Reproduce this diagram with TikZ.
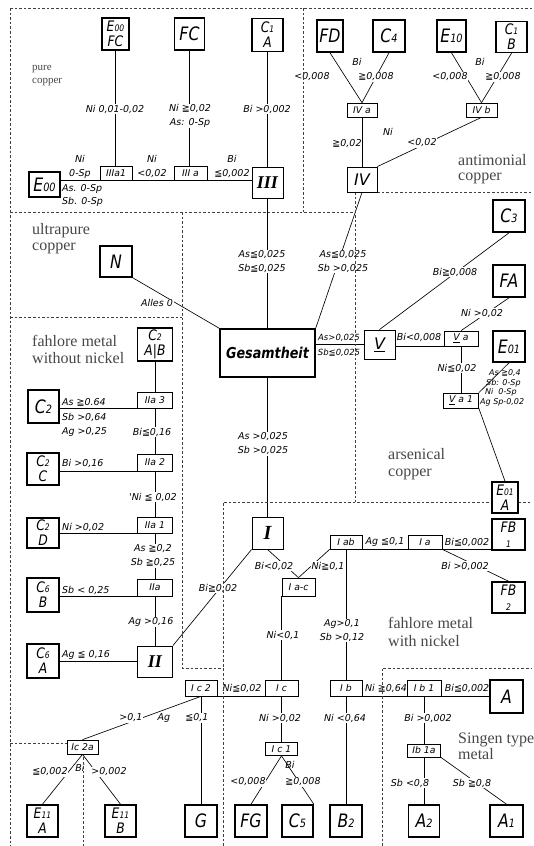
\documentclass[tikz,border=0pt]{standalone}
\usepackage{fontspec}
\setmainfont{Liberation Serif}
\newfontfamily\dvs{DejaVu Sans}[ItalicFont={DejaVu Sans Oblique},BoldFont={DejaVu Sans Bold},BoldItalicFont={DejaVu Sans Bold Oblique}]
\newfontfamily\dvsn{DejaVu Sans}[FakeStretch=0.85,ItalicFont={DejaVu Sans Oblique},BoldFont={DejaVu Sans Bold},BoldItalicFont={DejaVu Sans Bold Oblique}]
\newcommand\labf{\dvs\itshape\fontsize{9.5}{14}\selectfont}
\newcommand\smf{\dvs\itshape\fontsize{9.3}{9.5}\selectfont}
\newcommand\leaff{\dvsn\itshape\fontsize{18.5}{16}\selectfont}
\newcommand\leafii{\dvsn\itshape\fontsize{14.5}{15}\selectfont}
\newcommand\numf{\rmfamily\bfseries\itshape\fontsize{18}{18}\selectfont}
\newcommand\gesf{\dvsn\bfseries\itshape\fontsize{15}{15}\selectfont}
\newcommand\regf{\fontsize{16}{17}\selectfont}
\newcommand\regs{\fontsize{11}{12}\selectfont}
\newcommand\sbs[1]{\scalebox{0.62}{#1}}
\pgfdeclarelayer{conn}\pgfdeclarelayer{labs}\pgfdeclarelayer{regs}
\pgfsetlayers{conn,labs,regs,main}
\begin{document}
\begin{tikzpicture}[x=1pt,y=-1pt,
 cn/.style={line width=0.65pt},
 dsh/.style={line width=0.6pt, black!75, dash pattern=on 2.6pt off 2pt},
 leaf/.style={draw, fill=white, line width=1.6pt, inner sep=0pt, align=center, font=\leaff},
 leaftwo/.style={leaf, font=\leafii},
 mainb/.style={draw, fill=white, line width=0.9pt, inner sep=0pt, font=\numf},
 smb/.style={draw, fill=white, line width=0.7pt, inner sep=0pt, font=\smf},
 wh/.style 2 args={minimum width=#1pt, minimum height=#2pt},
 lb/.style={font=\labf, inner sep=0.8pt, align=center},
 lbw/.style={lb, fill=white},
 lbl/.style={font=\labf, inner sep=0pt, anchor=west},
 lbs/.style={font=\dvs\itshape\fontsize{8}{9}\selectfont, inner sep=0pt, anchor=west},
 reg/.style={font=\regf, text=black!72, anchor=base west, inner sep=0pt},
]
\useasboundingbox (0,0) rectangle (534,846);
% ---------- leaf boxes
\node[leaftwo,wh={27}{32}] (E00FC) at (115.5,34) {E\sbs{00}\\FC};
\node[leaf,wh={30}{32}] (FC) at (189.5,34) {FC};
\node[leaftwo,wh={31}{33}] (C1A) at (267.5,35) {C\sbs{1}\\A};
\node[leaf,wh={31}{25}] (E00) at (44.5,184.5) {E\sbs{00}};
\node[leaf,wh={26}{32}] (FD) at (330,36) {FD};
\node[leaf,wh={32}{32}] (C4) at (389,36) {C\sbs{4}};
\node[leaf,wh={29}{32}] (E10) at (451.5,36) {E\sbs{10}};
\node[leaftwo,wh={31}{31}] (C1B) at (511.5,37) {C\sbs{1}\\B};
\node[leaf,wh={32}{31}] (N) at (116,261.5) {N};
\node[draw,fill=white,line width=1.4pt,inner sep=0pt,wh={95}{48},font=\gesf] (Ges) at (267.5,353) {Gesamtheit};
\node[leaftwo,wh={35}{33}] (C2AB) at (155,344.5) {C\sbs{2}\\A|B};
\node[leaf,wh={31}{33}] (C2) at (43.5,406.5) {C\sbs{2}};
\node[leaftwo,wh={32}{32}] (C2C) at (43,469) {C\sbs{2}\\C};
\node[leaftwo,wh={32}{30}] (C2D) at (43,533) {C\sbs{2}\\D};
\node[leaftwo,wh={32}{34}] (C6B) at (43,595) {C\sbs{6}\\B};
\node[leaftwo,wh={32}{34}] (C6A) at (43,661) {C\sbs{6}\\A};
\node[leaf,wh={32}{32}] (C3) at (509,216) {C\sbs{3}};
\node[leaf,wh={32}{32}] (FA) at (509,281) {FA};
\node[leaf,wh={32}{31}] (E01) at (509,346.5) {E\sbs{01}};
\node[leaftwo,wh={26}{31}] (E01A) at (505,497.5) {E\sbs{01}\\A};
\node[leaftwo,wh={33}{31}] (FB1) at (508.5,534.5) {FB\\\sbs{1}};
\node[leaftwo,wh={33}{31}] (FB2) at (508.5,597.5) {FB\\\sbs{2}};
\node[leaf,wh={33}{33}] (A) at (506.5,696.5) {A};
\node[leaftwo,wh={31}{32}] (E11A) at (42.5,821) {E\sbs{11}\\A};
\node[leaftwo,wh={31}{32}] (E11B) at (120.5,821) {E\sbs{11}\\B};
\node[leaf,wh={32}{32}] (G) at (201,821) {G};
\node[leaf,wh={32}{32}] (FG) at (251,821) {FG};
\node[leaf,wh={31}{32}] (C5) at (297.5,821) {C\sbs{5}};
\node[leaf,wh={32}{32}] (B2) at (346,821) {B\sbs{2}};
\node[leaf,wh={31}{32}] (A2) at (424,821) {A\sbs{2}};
\node[leaf,wh={33}{32}] (A1) at (506.5,821) {A\sbs{1}};
% ---------- main boxes
\node[mainb,wh={31}{31}] (III) at (267.5,182.5) {III};
\node[mainb,wh={30}{25},font=\dvs\itshape\fontsize{16}{16}\selectfont] (IV) at (362,179.5) {IV};
\node[mainb,wh={31}{29},font=\dvs\itshape\fontsize{16}{16}\selectfont] (V) at (379.5,344.5) {\underline{V}};
\node[mainb,wh={35}{31}] (II) at (155,661.5) {II};
\node[mainb,wh={31}{32},font=\rmfamily\bfseries\itshape\fontsize{20}{20}\selectfont] (I) at (267.5,533) {I};
% ---------- small boxes
\node[smb,wh={32}{14}] (IIIa1) at (116,173) {IIIa1};
\node[smb,wh={33}{14}] (IIIa) at (190.5,173) {III a};
\node[smb,wh={30}{14}] (IVa) at (362,110) {IV a};
\node[smb,wh={31}{14}] (IVb) at (481.5,110) {IV b};
\node[smb,wh={35}{16}] (IIa3) at (155,400) {IIa 3};
\node[smb,wh={35}{17}] (IIa2) at (155,462.5) {IIa 2};
\node[smb,wh={35}{16}] (IIa1) at (155,525) {IIa 1};
\node[smb,wh={35}{17}] (IIa) at (155,587.5) {IIa};
\node[smb,wh={34}{15}] (Va) at (461,338.5) {\underline{V} a};
\node[smb,wh={35}{15}] (Va1) at (461,400.5) {\underline{V} a 1};
\node[smb,wh={32}{14}] (Iab) at (346,542) {I ab};
\node[smb,wh={34}{14}] (Ia) at (425,542) {I a};
\node[smb,wh={33}{18}] (Iac) at (298.5,587) {I a-c};
\node[smb,wh={33}{16}] (Ic) at (281.5,688) {I c};
\node[smb,wh={32}{16}] (Ib) at (346,688) {I b};
\node[smb,wh={34}{16}] (Ib1) at (424,688) {I b 1};
\node[smb,wh={32}{13}] (Ic1) at (281.5,749) {I c 1};
\node[smb,wh={33}{13}] (Ib1a) at (424,750.5) {Ib 1a};
\node[smb,wh={32}{16}] (Ic2) at (201,688) {I c 2};
\node[smb,wh={31}{14}] (Ic2a) at (82.5,747) {Ic 2a};
% ---------- connectors
\begin{pgfonlayer}{conn}
\draw[cn] (E00FC.south) -- (E00FC.south |- IIIa1.north);
\draw[cn] (FC.south) -- (FC.south |- IIIa.north);
\draw[cn] (C1A.south) -- (III.north);
\draw[cn] (E00.east |- IIIa1.south) -- (III.west |- IIIa1.south);
\draw[cn] (III.south) -- (Ges.north);
\draw[cn] (FD.south) -- (IVa.north);
\draw[cn] (C4.south) -- (IVa.north);
\draw[cn] (E10.south) -- (IVb.north);
\draw[cn] (C1B.south) -- (IVb.north);
\draw[cn] (IVa.south) -- (IV.north);
\draw[cn] (IV.north east) -- (IVb.south);
\draw[cn] (Ges.north east) -- (IV.south);
\draw[cn] (N.south east) -- (Ges.north west);
\draw[cn] (Ges.east |- V.west) -- (V.west);
\draw[cn] (V.north) -- (C3.south);
\draw[cn] (V.east |- Va.south) -- (Va.south west);
\draw[cn] (Va.north) -- (FA.south);
\draw[cn] (Va.south) -- (Va1.north);
\draw[cn] (Va1.north east) -- (E01.south);
\draw[cn] (Va1.south east) -- (E01A.north);
\draw[cn] (C2AB.south) -- (IIa3.north);
\draw[cn] (IIa3.south) -- (IIa2.north);
\draw[cn] (IIa2.south) -- (IIa1.north);
\draw[cn] (IIa1.south) -- (IIa.north);
\draw[cn] (IIa.south) -- (II.north);
\draw[cn] (C2.east |- IIa3.south) -- (IIa3.south west);
\draw[cn] (C2C.east |- IIa2.south) -- (IIa2.south west);
\draw[cn] (C2D.east |- IIa1.south) -- (IIa1.south west);
\draw[cn] (C6B.east |- IIa.south) -- (IIa.south west);
\draw[cn] (C6A.east |- II.west) -- (II.west);
\draw[cn] (II.north east) -- (I.south west);
\draw[cn] (Ges.south) -- (I.north);
\draw[cn] (I.south) -- (Iac.north);
\draw[cn] (Iab.south west) -- (Iac.north);
\draw[cn] (Iab.south) -- (Ib.north);
\draw[cn] (Iab.south east) -- (FB1.west |- Iab.south);
\draw[cn] (Ia.south east) -- (FB2.north);
\draw[cn] (Iac.south west) -- (Iac.south west |- Ic.north);
\draw[cn] (Ic2.south east) -- (Ic.south west);
\draw[cn] (Ic.south) -- (Ic1.north);
\draw[cn] (Ic1.south) -- (FG.north);
\draw[cn] (Ic1.south) -- (C5.north east);
\draw[cn] (Ib.south) -- (B2.north);
\draw[cn] (Ib.south east) -- (A.west |- Ib.south);
\draw[cn] (Ib1.south) -- (Ib1a.north);
\draw[cn] (Ib1a.south) -- (A2.north);
\draw[cn] (Ib1a.south east) -- (A1.north);
\draw[cn] (Ic2.south) -- (G.north);
\draw[cn] (Ic2.south) -- (Ic2a.north);
\draw[cn] (Ic2a.south) -- (E11A.north);
\draw[cn] (Ic2a.south) -- (E11B.north);
\end{pgfonlayer}
% ---------- labels
\begin{pgfonlayer}{labs}
\node[lbw] (t1) at (115,109) {Ni 0,01-0,02};
\node[lbw] (t2) at (190,116) {Ni ≧0,02\\As: 0-Sp};
\node[lbw] (t3) at (267,109) {Bi >0,002};
\node[lb] (t4) at (80,166.5) {Ni\\0-Sp};
\node[lbl] (t5) at (62,189) {As. 0-Sp};
\node[lbl] (t5b) at (62,202) {Sb. 0-Sp};
\node[lb] (t6) at (152,166.5) {Ni\\<0,02};
\node[lb] (t7) at (232,166.5) {Bi\\≦0,002};
\node[lb] (t8) at (357,62) {Bi};
\node[lbw] (t9) at (312,77) {<0,008};
\node[lbw] (t10) at (376,77) {≧0,008};
\node[lb] (t8b) at (480,62) {Bi};
\node[lbw] (t11) at (450,77) {<0,008};
\node[lbw] (t11b) at (503,77) {≧0,008};
\node[lbw] (t12) at (347,144) {≧0,02};
\node[lb] (t13) at (388,132) {Ni};
\node[lbw] (t14) at (422,143) {<0,02};
\node[lbw] (t15) at (262,261.5) {As≦0,025\\Sb≦0,025};
\node[lbw] (t16) at (343,261.5) {As≦0,025\\Sb >0,025};
\node[lbw] (t17) at (157,303) {Alles 0};
\node[lb,font=\dvs\itshape\fontsize{8.5}{9}\selectfont] (t18) at (339,338) {As>0,025};
\node[lb,font=\dvs\itshape\fontsize{8.5}{9}\selectfont] (t19) at (339,353) {Sb≦0,025};
\node[lbw] (t20) at (455,272) {Bi≧0,008};
\node[lbw] (t21) at (482,313) {Ni >0,02};
\node[lb] (t22) at (419,337) {Bi<0,008};
\node[lbw] (t23) at (457,368) {Ni≦0,02};
\node[lbs] (t23a) at (489,373) {As ≧0,4};
\node[lbs] (t23b) at (486,383) {Sb: 0-Sp};
\node[lbs] (t23c) at (485,392.5) {Ni\ \ 0-Sp};
\node[lbs] (t23d) at (480,402) {Ag Sp-0,02};
\node[lbw] (t24) at (263,444) {As >0,025\\Sb >0,025};
\node[lbl] (t25) at (62,402) {As ≧0.64};
\node[lbl] (t26) at (62,417) {Sb >0,64};
\node[lbl] (t27) at (62,432) {Ag >0,25};
\node[lbw] (t28) at (152,432) {Bi≦0,16};
\node[lbl] (t29) at (62,463) {Bi >0,16};
\node[lbw] (t30) at (153,497) {'Ni ≦ 0,02};
\node[lbl] (t31) at (62,527) {Ni >0,02};
\node[lbw] (t32) at (153,556) {As ≧0,2\\Sb ≧0,25};
\node[lbl] (t33) at (62,590) {Sb < 0,25};
\node[lbw] (t34) at (151,622) {Ag >0,16};
\node[lbl] (t35) at (62,655) {Ag ≦ 0,16};
\node[lbw] (t36) at (218,588) {Bi≧0,02};
\node[lbw] (t37) at (274,566) {Bi<0,02};
\node[lbw] (t38) at (328,566) {Ni≧0,1};
\node[lb] (t39) at (385,542) {Ag ≦0,1};
\node[lb] (t40) at (467,542) {Bi≦0,002};
\node[lbw] (t41) at (465,566) {Bi >0,002};
\node[lbw] (t42) at (283,635) {Ni<0,1};
\node[lbw] (t43) at (342,630.5) {Ag>0,1\\Sb >0,12};
\node[lb] (t44) at (242,688) {Ni≦0,02};
\node[lbw] (t45) at (280,718) {Ni >0,02};
\node[lbw] (t46) at (345,718) {Ni <0,64};
\node[lb] (t47) at (386,688) {Ni ≧0,64};
\node[lb] (t48) at (467,688) {Bi≦0,002};
\node[lbw] (t49) at (428,718) {Bi >0,002};
\node[lb] (t50) at (290,765) {Bi};
\node[lbw] (t51) at (248,782) {<0,008};
\node[lbw] (t52) at (303,782) {≧0,008};
\node[lbw] (t53) at (410,783) {Sb <0,8};
\node[lbw] (t54) at (472,783) {Sb ≧0,8};
\node[lbw] (t55) at (131,718) {>0,1};
\node[lb] (t56) at (164,718) {Ag};
\node[lbw] (t57) at (197,718) {≦0,1};
\node[lb] (t58) at (80,768) {Bi};
\node[lbw] (t59) at (50,772) {≦0,002};
\node[lbw] (t60) at (109,772) {>0,002};
\end{pgfonlayer}
% ---------- region borders and names
\begin{pgfonlayer}{regs}
\draw[dsh] (10,8) -- (532,8);
\draw[dsh] (10,8) -- (10,846);
\draw[dsh] (303,8) -- (303,212);
\draw[dsh] (10,212) -- (355,212);
\draw[dsh] (355,192) -- (355,502);
\draw[dsh] (377,192) -- (532,192);
\draw[dsh] (10,317) -- (182,317);
\draw[dsh] (182,212) -- (182,668) -- (223,668);
\draw[dsh] (223,846) -- (223,502) -- (532,502);
\draw[dsh] (10,743) -- (67,743);
\draw[dsh] (83,757) -- (83,846);
\draw[dsh] (382,846) -- (382,668) -- (532,668);
\end{pgfonlayer}
\node[reg,font=\regs] (r1) at (32,70.5) {pure};
\node[reg,font=\regs] (r2) at (32,83) {copper};
\node[reg] (r3) at (32,234.5) {ultrapure};
\node[reg] (r4) at (32,250.5) {copper};
\node[reg] (r5) at (458,165.5) {antimonial};
\node[reg] (r6) at (458,180.5) {copper};
\node[reg] (r7) at (32,346) {fahlore metal};
\node[reg] (r8) at (32,363) {without nickel};
\node[reg] (r9) at (388,459) {arsenical};
\node[reg] (r10) at (388,476) {copper};
\node[reg] (r11) at (388,628) {fahlore metal};
\node[reg] (r12) at (388,646) {with nickel};
\node[reg] (r13) at (458,743) {Singen type};
\node[reg] (r14) at (458,759) {metal};
\end{tikzpicture}
\end{document}
